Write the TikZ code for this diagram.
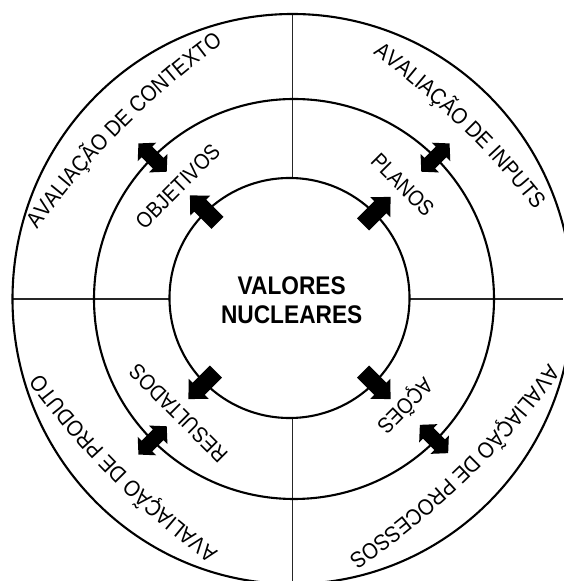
\documentclass[tikz,border=0pt]{standalone}
\usepackage{fontspec}
\setmainfont{Liberation Sans}
\newfontfamily\ringfamily[FakeStretch=0.89]{Liberation Sans}
\newfontfamily\stagefamily[FakeStretch=0.88]{Liberation Sans}
\usetikzlibrary{decorations.text}

\newcommand\ringfont{\ringfamily\fontsize{22.5}{26}\selectfont}
\newcommand\stagefont{\stagefamily\fontsize{22}{25}\selectfont}
\newcommand\corefont{\ringfamily\bfseries\fontsize{25.5}{28.5}\selectfont}

\begin{document}
\begin{tikzpicture}[x=1pt,y=1pt,
  ring/.style={line width=2.1pt},
  divider/.style={line width=1.3pt, black!85},
  stagelabel/.style={font=\stagefont, inner sep=0pt},
  arclabel/.style={decorate, decoration={text along path, text align=center,
    text={|\ringfont|#1}}},
  % block arrow pointing along +x, centred on its midpoint
  corearrow/.pic={\fill (-19.5,-8.5) -- (5,-8.5) -- (5,-14) -- (19.5,0)
      -- (5,14) -- (5,8.5) -- (-19.5,8.5) -- cycle;},
  % two-headed block arrow along x, centred on its midpoint
  linkarrow/.pic={\fill (-20,0) -- (-8,-13) -- (-8,-7.5) -- (8,-7.5) -- (8,-13)
      -- (20,0) -- (8,13) -- (8,7.5) -- (-8,7.5) -- (-8,13) -- cycle;}
]
\useasboundingbox[fill=white] (0,0) rectangle (563,581);

% centres of the three rings
\coordinate (oc) at (292.5,282);
\coordinate (mc) at (294,282);
\coordinate (ic) at (289.5,283);

% quadrant dividers, from the core circle out to the outer ring
\coordinate (vtop) at (292.7,567);
\coordinate (vtopin) at (292.7,400);
\coordinate (vbot) at (292.7,0);
\coordinate (vbotin) at (292.7,166);
\coordinate (hleft) at (12.7,282);
\coordinate (hleftin) at (172,282);
\coordinate (hright) at (563,282);
\coordinate (hrightin) at (407,282);
\draw[divider] (vtop) -- (vtopin);
\draw[divider] (vbotin) -- (vbot);
\draw[divider] (hleft) -- (hleftin);
\draw[divider] (hrightin) -- (hright);

% rings
\draw[ring] (oc) ellipse [x radius=280, y radius=285];
\draw[ring] (mc) circle [radius=200];
\draw[ring, fill=white] (ic) circle [radius=120];

% outer ring labels: gently arched baselines, read clockwise
% (arch radius 850, letter middles about 248 from the ring centre)
\coordinate (ctxC) at ([shift={(315:602)}]oc);
\coordinate (inpC) at ([shift={(226:602)}]oc);
\coordinate (proC) at ([shift={(134:606)}]oc);
\coordinate (prdC) at ([shift={(45:602)}]oc);
\path[arclabel={AVALIAÇÃO DE CONTEXTO}] ([shift={(147:842)}]ctxC) arc [start angle=147, end angle=123, radius=842];
\path[arclabel={AVALIAÇÃO DE INPUTS}] ([shift={(58:842)}]inpC) arc [start angle=58, end angle=34, radius=842];
\path[arclabel={AVALIAÇÃO DE PROCESSOS}] ([shift={(-34:842)}]proC) arc [start angle=-34, end angle=-58, radius=842];
\path[arclabel={AVALIAÇÃO DE PRODUTO}] ([shift={(-123:842)}]prdC) arc [start angle=-123, end angle=-147, radius=842];

% middle ring labels
\node[stagelabel, rotate=45] (objetivos) at ([shift={(135:158)}]ic) {OBJETIVOS};
\node[stagelabel, rotate=-45] (planos) at ([shift={(45:160)}]ic) {PLANOS};
\node[stagelabel, rotate=-135] (acoes) at ([shift={(-43:158)}]ic) {AÇÕES};
\node[stagelabel, rotate=135] (resultados) at ([shift={(-134:160)}]ic) {RESULTADOS};

% core
\node[font=\corefont, align=center, inner sep=0pt] (core) at (291.7,281) {VALORES\\NUCLEARES};

% arrows leaving the core
\pic[rotate=135] at ([shift={(134:123.5)}]ic) {corearrow};
\pic[rotate=45] at ([shift={(45:123.5)}]ic) {corearrow};
\pic[rotate=-45] at ([shift={(-45:123.5)}]ic) {corearrow};
\pic[rotate=-135] at ([shift={(-135:123.5)}]ic) {corearrow};

% two-way arrows across the middle ring
\pic[rotate=135] at ([shift={(135:200)}]mc) {linkarrow};
\pic[rotate=45] at ([shift={(45:200)}]mc) {linkarrow};
\pic[rotate=-45] at ([shift={(-45:198)}]mc) {linkarrow};
\pic[rotate=-135] at ([shift={(-135:200)}]mc) {linkarrow};
\end{tikzpicture}
\end{document}
